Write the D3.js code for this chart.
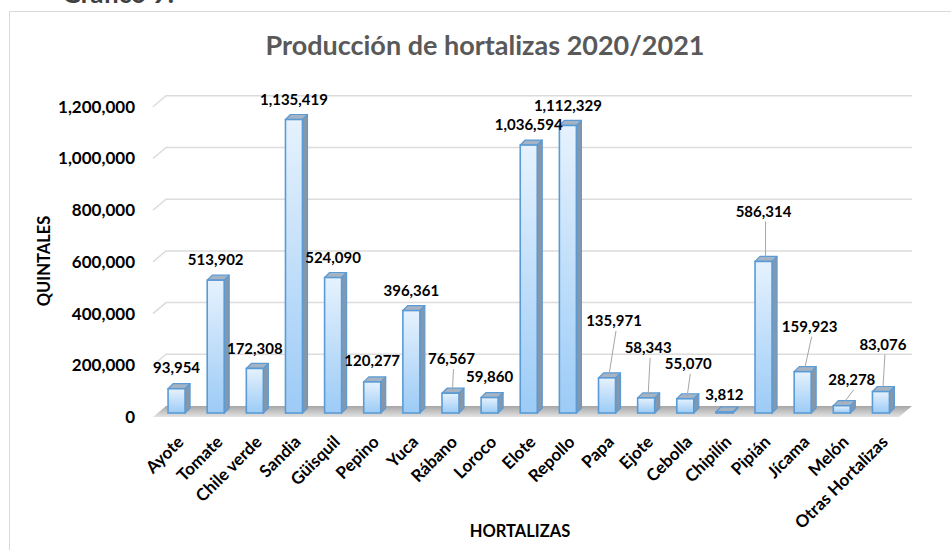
<!DOCTYPE html>
<html>
<head>
<meta charset="utf-8">
<script src="https://cdnjs.cloudflare.com/ajax/libs/d3/7.8.5/d3.min.js"></script>
<style>
    body { margin: 0; background: #fff; }
    text { font-family: Lato, "Open Sans", sans-serif; font-weight: bold; }
</style>
</head>
<body>
<div id="chart"></div>
<script>
// data
var categories = ["Ayote", "Tomate", "Chile verde", "Sandia", "Güisquil", "Pepino", "Yuca", "Rábano", "Loroco",
    "Elote", "Repollo", "Papa", "Ejote", "Cebolla", "Chipilín", "Pipián", "Jícama", "Melón", "Otras Hortalizas"];
var values = [93954, 513902, 172308, 1135419, 524090, 120277, 396361, 76567, 59860,
    1036594, 1112329, 135971, 58343, 55070, 3812, 586314, 159923, 28278, 83076];
var yTicks = [0, 200000, 400000, 600000, 800000, 1000000, 1200000];

// label placement (px from the bar top), the chart had them dragged by hand
var labelDx = [0, 0, 0, 0, 0, 0, 0, 1, 0, 0, 0, 7, 2, 3, 0, 0, 7, 10, 2];
var labelDy = [-21, -20, -20, -20, -20, -21, -20, -34, -21, -20, -20, -57, -50, -35, -17, -50, -45, -26, -47];
var leader = [0, 0, 0, 0, 0, 0, 0, 1, 0, 0, 0, 1, 1, 1, 0, 1, 1, 1, 1];

Chart = (function() {

    var width = 951,
        height = 550,
        format = d3.format(",d");

    var depthX = 13, depthY = 11,   // floor / wall depth
        barDepth = 5,
        barW = 17;

    var svg = d3.select("#chart").append("svg")
        .attr("width", width)
        .attr("height", height);

    var x = d3.scaleBand()
        .domain(categories)
        .range([157, 900.5]);

    var y = d3.scaleLinear()
        .domain([0, 1200000])
        .range([413, 102.8]);

    var cx = function(d) { return x(d) + x.bandwidth() / 2; };

    var init = function() {
        drawFrame();
        drawGrid();
        drawBars();
        drawLabels();
    };

    var drawFrame = function() {
        svg.append("path")
            .attr("d", "M9.5," + height + "V11.5H" + width)
            .attr("fill", "none")
            .attr("stroke", "#d9d9d9")
            .attr("stroke-width", 1);

        svg.append("text")
            .attr("x", 62)
            .attr("y", 3)
            .attr("font-size", 26)
            .attr("fill", "#404040")
            .text("Gráfico 9:");

        svg.append("text")
            .attr("x", 485)
            .attr("y", 55)
            .attr("text-anchor", "middle")
            .attr("font-size", 27)
            .attr("fill", "#595959")
            .text("Producción de hortalizas 2020/2021");

        svg.append("text")
            .attr("transform", "translate(50,261) rotate(-90)")
            .attr("text-anchor", "middle")
            .attr("font-size", 16.5)
            .text("QUINTALES");

        svg.append("text")
            .attr("x", 520)
            .attr("y", 537)
            .attr("text-anchor", "middle")
            .attr("font-size", 16.5)
            .text("HORTALIZAS");
    };

    var drawGrid = function() {
        var x0 = 153, x1 = 912;

        var defs = svg.append("defs");
        var floorGrad = defs.append("linearGradient")
            .attr("id", "floorGrad")
            .attr("x1", 0).attr("y1", 0).attr("x2", 0).attr("y2", 1);
        floorGrad.append("stop").attr("offset", "0%").attr("stop-color", "#a6a6a6");
        floorGrad.append("stop").attr("offset", "100%").attr("stop-color", "#e2e2e2");

        var barGrad = defs.append("linearGradient")
            .attr("id", "barGrad")
            .attr("x1", 0).attr("y1", 0).attr("x2", 0).attr("y2", 1);
        barGrad.append("stop").attr("offset", "0%").attr("stop-color", "#e6f2fd");
        barGrad.append("stop").attr("offset", "100%").attr("stop-color", "#9ccbf6");

        // floor
        svg.append("path")
            .attr("d", "M" + x0 + "," + (y(0) + 4) + "L" + (x0 + depthX) + "," + (y(0) - 7) +
                "L" + x1 + "," + (y(0) - 7) + "L" + (x1 - depthX) + "," + (y(0) + 4) + "Z")
            .attr("fill", "url(#floorGrad)");

        svg.append("g")
            .selectAll("path")
            .data(yTicks.slice(1))
            .enter()
            .append("path")
            .attr("d", function(d) {
                return "M" + x0 + "," + (y(d) + 4) + "L" + (x0 + depthX) + "," + (y(d) + 4 - depthY) + "H" + x1;
            })
            .attr("fill", "none")
            .attr("stroke", "#dcdcdc")
            .attr("stroke-width", 1.5);

        var yAxis = svg.append("g")
            .attr("transform", "translate(135,4)")
            .call(d3.axisLeft(y).tickValues(yTicks).tickFormat(format).tickSize(0).tickPadding(0));
        yAxis.select(".domain").remove();
        yAxis.selectAll("text")
            .attr("font-size", 17)
            .attr("fill", "#000")
            .style("font-family", "Lato, sans-serif")
            .style("font-weight", "bold");

        svg.append("g")
            .selectAll("text")
            .data(categories)
            .enter()
            .append("text")
            .attr("transform", function(d) { return "translate(" + (cx(d) + 8) + ",443) rotate(-45)"; })
            .attr("text-anchor", "end")
            .attr("font-size", 17)
            .text(function(d) { return d; });
    };

    var drawBars = function() {
        var bars = svg.append("g")
            .selectAll("g")
            .data(values)
            .enter()
            .append("g");

        // side
        bars.append("path")
            .attr("d", function(d, i) {
                var r = cx(categories[i]) + barW / 2, t = y(d), b = y(0);
                return "M" + r + "," + t + "l" + barDepth + "," + (-barDepth) + "V" + (b - barDepth) + "L" + r + "," + b + "Z";
            })
            .attr("fill", "#8697aa")
            .attr("stroke", "#5b9bd5")
            .attr("stroke-width", 1.2)
            .attr("stroke-linejoin", "round");

        // top
        bars.append("path")
            .attr("d", function(d, i) {
                var l = cx(categories[i]) - barW / 2, t = y(d);
                return "M" + l + "," + t + "l" + barDepth + "," + (-barDepth) + "h" + barW + "l" + (-barDepth) + "," + barDepth + "Z";
            })
            .attr("fill", "#a5b3c2")
            .attr("stroke", "#5b9bd5")
            .attr("stroke-width", 1.2)
            .attr("stroke-linejoin", "round");

        // front
        bars.append("rect")
            .attr("x", function(d, i) { return cx(categories[i]) - barW / 2; })
            .attr("y", function(d) { return y(d); })
            .attr("width", barW)
            .attr("height", function(d) { return y(0) - y(d); })
            .attr("fill", "url(#barGrad)")
            .attr("stroke", "#5b9bd5")
            .attr("stroke-width", 1.6);
    };

    var drawLabels = function() {
        var g = svg.append("g");

        g.selectAll("line")
            .data(values.filter(function(d, i) { return leader[i]; }))
            .enter()
            .append("line")
            .each(function(d) {
                var i = values.indexOf(d);
                var bx = cx(categories[i]) + 2, by = y(d) - 3;
                d3.select(this)
                    .attr("x1", bx + labelDx[i])
                    .attr("y1", by + labelDy[i] + 13)
                    .attr("x2", bx)
                    .attr("y2", by);
            })
            .attr("stroke", "#a6a6a6")
            .attr("stroke-width", 1);

        g.selectAll("text")
            .data(values)
            .enter()
            .append("text")
            .attr("x", function(d, i) { return cx(categories[i]) + labelDx[i]; })
            .attr("y", function(d, i) { return y(d) + labelDy[i]; })
            .attr("dy", "0.35em")
            .attr("text-anchor", "middle")
            .attr("font-size", 15)
            .text(function(d) { return format(d); });
    };

    return {
        init: init
    };

})();

Chart.init();
</script>
</body>
</html>
